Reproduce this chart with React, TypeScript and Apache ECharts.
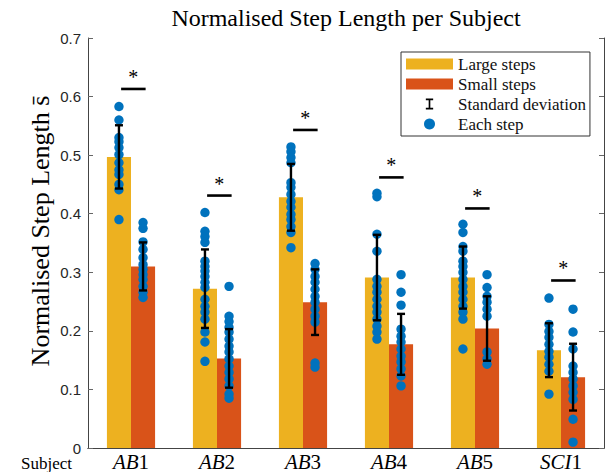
import React, { useEffect, useRef } from "react";
import * as echarts from "echarts";

const subjects = ["AB1", "AB2", "AB3", "AB4", "AB5", "SCI1"];
const yTicks = { min: 0, max: 0.7, interval: 0.1 };

const largeMean = [0.497, 0.272, 0.428, 0.291, 0.291, 0.167];
const smallMean = [0.31, 0.153, 0.249, 0.177, 0.204, 0.121];
const largeStd = [0.054, 0.067, 0.057, 0.073, 0.053, 0.046];
const smallStd = [0.041, 0.05, 0.056, 0.052, 0.055, 0.057];
const sigLineY = [0.613, 0.431, 0.543, 0.462, 0.409, 0.286];

const largeSteps: number[][] = [
  [0.583, 0.56, 0.53, 0.523, 0.513, 0.501, 0.487, 0.475, 0.467, 0.45, 0.441, 0.39],
  [0.402, 0.37, 0.361, 0.351, 0.319, 0.31, 0.302, 0.293, 0.283, 0.274, 0.254, 0.242, 0.232, 0.22, 0.198, 0.181, 0.148],
  [0.514, 0.506, 0.496, 0.487, 0.453, 0.445, 0.433, 0.421, 0.411, 0.399, 0.39, 0.378, 0.368, 0.342],
  [0.435, 0.429, 0.365, 0.336, 0.288, 0.276, 0.266, 0.254, 0.242, 0.232, 0.22, 0.208, 0.198, 0.186],
  [0.382, 0.368, 0.344, 0.336, 0.319, 0.31, 0.3, 0.288, 0.276, 0.266, 0.254, 0.242, 0.232, 0.22, 0.169],
  [0.256, 0.211, 0.199, 0.189, 0.177, 0.165, 0.155, 0.143, 0.131, 0.092],
];
const smallSteps: number[][] = [
  [0.385, 0.375, 0.352, 0.339, 0.325, 0.313, 0.305, 0.296, 0.288, 0.276, 0.266, 0.257],
  [0.276, 0.225, 0.216, 0.206, 0.198, 0.186, 0.174, 0.164, 0.152, 0.14, 0.129, 0.118, 0.106, 0.092, 0.085],
  [0.315, 0.305, 0.293, 0.283, 0.271, 0.259, 0.249, 0.237, 0.225, 0.215, 0.145, 0.138],
  [0.296, 0.266, 0.244, 0.203, 0.191, 0.181, 0.169, 0.157, 0.147, 0.135, 0.123, 0.106],
  [0.296, 0.274, 0.259, 0.249, 0.237, 0.225, 0.164, 0.152, 0.143],
  [0.237, 0.198, 0.169, 0.14, 0.129, 0.118, 0.106, 0.095, 0.083, 0.049, 0.01],
];

const LARGE = "#EDB120";
const SMALL = "#D95319";
const DOT = "#0072BD";
const SERIF = "'Liberation Serif', 'Times New Roman', serif";
const SANS = "'Liberation Sans', Arial, sans-serif";
const HALF = 0.14; // half of a bar pair's fraction of the band (barWidth 28%)

export default function App() {
  const ref = useRef<HTMLDivElement>(null);
  useEffect(() => {
    if (!ref.current) return;
    const chart = echarts.init(ref.current, undefined, { renderer: "svg" });

    const dotData: number[][] = [];
    largeSteps.forEach((arr, i) => arr.forEach((v) => dotData.push([i, 0, v])));
    smallSteps.forEach((arr, i) => arr.forEach((v) => dotData.push([i, 1, v])));
    const errData: number[][] = [];
    largeMean.forEach((m, i) => errData.push([i, 0, m, largeStd[i]]));
    smallMean.forEach((m, i) => errData.push([i, 1, m, smallStd[i]]));
    const sigData = sigLineY.map((y, i) => [i, y]);

    const option: any = {
      animation: false,
      backgroundColor: "#fff",
      title: {
        text: "Normalised Step Length per Subject",
        left: 341,
        top: 1,
        textAlign: "center",
        textStyle: { fontFamily: SERIF, fontSize: 24, fontWeight: "normal", color: "#000" },
      },
      grid: { left: 88, right: 11, top: 38, bottom: 23 },
      legend: {
        orient: "vertical",
        left: 401,
        top: 52,
        padding: [3, 4, 3, 5],
        itemWidth: 47,
        itemHeight: 11,
        itemGap: 2,
        selectedMode: false,
        backgroundColor: "#fff",
        borderColor: "#333",
        borderWidth: 1,
        textStyle: { fontFamily: SERIF, fontSize: 17, color: "#111", lineHeight: 18 },
        data: [
          { name: "Large steps", icon: "rect" },
          { name: "Small steps", icon: "rect" },
          { name: "Standard deviation", icon: "path://M0,0H8V1.8H4.9V10.2H8V12H0V10.2H3.1V1.8H0Z" },
          { name: "Each step", icon: "circle" },
        ],
      },
      xAxis: [
        {
          type: "category",
          data: subjects,
          axisLine: { lineStyle: { color: "#444", width: 1 } },
          axisTick: { inside: true, alignWithLabel: true, length: 5, lineStyle: { color: "#666" } },
          axisLabel: {
            margin: 3,
            formatter: (v: string) => v.replace(/^([A-Z]+)(\d+)$/, "{i|$1}{n|$2}"),
            rich: {
              i: { fontFamily: SERIF, fontStyle: "italic", fontSize: 21, color: "#000" },
              n: { fontFamily: SERIF, fontSize: 21, color: "#000" },
            },
          },
          splitLine: { show: false },
        },
        {
          type: "category",
          position: "top",
          data: subjects,
          axisLine: { lineStyle: { color: "#444", width: 1 } },
          axisTick: { inside: true, alignWithLabel: true, length: 5, lineStyle: { color: "#666" } },
          axisLabel: { show: false },
          splitLine: { show: false },
        },
      ],
      yAxis: [
        {
          type: "value",
          min: yTicks.min,
          max: yTicks.max,
          interval: yTicks.interval,
          axisLine: { show: true, lineStyle: { color: "#444", width: 1 } },
          axisTick: { show: true, inside: true, length: 5, lineStyle: { color: "#666" } },
          axisLabel: { fontFamily: SANS, fontSize: 15, color: "#262626", margin: 7 },
          splitLine: { show: false },
        },
        {
          type: "value",
          position: "right",
          min: yTicks.min,
          max: yTicks.max,
          interval: yTicks.interval,
          axisLine: { show: true, lineStyle: { color: "#444", width: 1 } },
          axisTick: { show: true, inside: true, length: 5, lineStyle: { color: "#666" } },
          axisLabel: { show: false },
          splitLine: { show: false },
        },
      ],
      graphic: [
        {
          type: "text",
          x: 40,
          y: 231,
          rotation: Math.PI / 2,
          style: {
            text: "Normalised Step Length s\u0304",
            fontFamily: SERIF,
            fontSize: 26,
            fill: "#000",
            align: "center",
            verticalAlign: "middle",
          },
        },
        {
          type: "text",
          x: 21,
          y: 463,
          style: {
            text: "Subject",
            fontFamily: SERIF,
            fontSize: 17,
            fill: "#000",
            align: "left",
            verticalAlign: "middle",
          },
        },
      ],
      series: [
        {
          name: "Large steps",
          type: "bar",
          data: largeMean,
          barWidth: "28%",
          barGap: "0%",
          itemStyle: { color: LARGE },
          silent: true,
          z: 2,
        },
        {
          name: "Small steps",
          type: "bar",
          data: smallMean,
          barWidth: "28%",
          barGap: "0%",
          itemStyle: { color: SMALL },
          silent: true,
          z: 2,
        },
        {
          name: "Each step",
          type: "custom",
          silent: true,
          z: 5,
          itemStyle: { color: DOT },
          encode: { x: 0, y: 2 },
          data: dotData,
          renderItem: (params: any, api: any) => {
            const c = api.value(0);
            const side = api.value(1);
            const p = api.coord([c, api.value(2)]);
            const bw = api.size([1, 0])[0];
            const x = p[0] + (side === 0 ? -1 : 1) * bw * HALF;
            return { type: "circle", z2: 10, shape: { cx: x, cy: p[1], r: 4.7 }, style: { fill: DOT } };
          },
        },
        {
          name: "Standard deviation",
          type: "custom",
          silent: true,
          z: 6,
          itemStyle: { color: "#000" },
          encode: { x: 0, y: 2 },
          data: errData,
          renderItem: (params: any, api: any) => {
            const c = api.value(0);
            const side = api.value(1);
            const m = api.value(2);
            const s = api.value(3);
            const top = api.coord([c, m + s]);
            const bot = api.coord([c, m - s]);
            const bw = api.size([1, 0])[0];
            const x = top[0] + (side === 0 ? -1 : 1) * bw * HALF;
            const cap = 4;
            const st = { stroke: "#000", lineWidth: 2.4 };
            return {
              type: "group",
              children: [
                { type: "line", shape: { x1: x, y1: top[1], x2: x, y2: bot[1] }, style: st },
                { type: "line", shape: { x1: x - cap, y1: top[1], x2: x + cap, y2: top[1] }, style: st },
                { type: "line", shape: { x1: x - cap, y1: bot[1], x2: x + cap, y2: bot[1] }, style: st },
              ],
            };
          },
        },
        {
          name: "sig",
          type: "custom",
          silent: true,
          z: 7,
          encode: { x: 0, y: 1 },
          data: sigData,
          renderItem: (params: any, api: any) => {
            const p = api.coord([api.value(0), api.value(1)]);
            const bw = api.size([1, 0])[0];
            const x1 = p[0] - bw * 0.115;
            const x2 = p[0] + bw * 0.17;
            return {
              type: "group",
              children: [
                { type: "line", shape: { x1, y1: p[1], x2, y2: p[1] }, style: { stroke: "#000", lineWidth: 2.6 } },
                {
                  type: "text",
                  x: (x1 + x2) / 2,
                  y: p[1] - 12,
                  style: {
                    text: "*",
                    fontFamily: SERIF,
                    fontSize: 20,
                    fill: "#000",
                    align: "center",
                    verticalAlign: "middle",
                  },
                },
              ],
            };
          },
        },
      ],
    };
    chart.setOption(option);
    return () => chart.dispose();
  }, []);
  return (
    <div
      ref={ref}
      style={{ position: "fixed", left: 0, top: 0, width: 615, height: 472 }}
    />
  );
}
